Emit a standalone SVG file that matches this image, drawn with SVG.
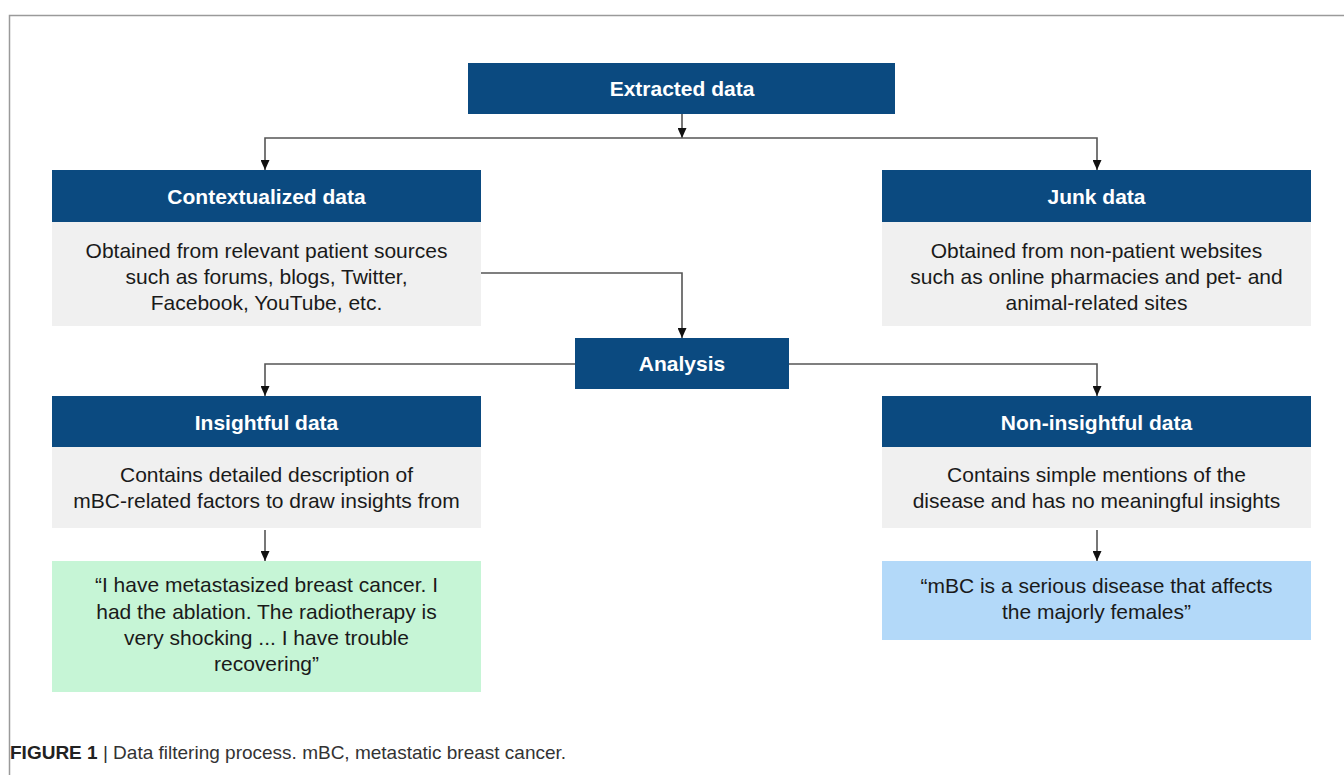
<svg xmlns="http://www.w3.org/2000/svg" width="1344" height="775" viewBox="0 0 1344 775">
<style>
.hdr{fill:#0b4a80}
.body{fill:#f0f0f0}
.green{fill:#c6f5d6}
.blue{fill:#b3d9f9}
.ht{font-family:"Liberation Sans",Arial,sans-serif;font-size:21px;font-weight:bold;fill:#ffffff;text-anchor:middle}
.bt{font-family:"Liberation Sans",Arial,sans-serif;font-size:21px;fill:#1a1a1a;text-anchor:middle}
.conn{fill:none;stroke:#555555;stroke-width:1.6}
.cap{font-family:"Liberation Sans",Arial,sans-serif;font-size:19px;fill:#333333}
</style>
<defs>
<marker id="arr" markerUnits="userSpaceOnUse" markerWidth="10" markerHeight="9" viewBox="0 0 10 9" refX="10" refY="4.5" orient="auto">
<path d="M0,0 L10,4.5 L0,9 z" fill="#111111"/>
</marker>
</defs>
<rect x="0" y="0" width="1344" height="775" fill="#ffffff"/>
<g id="frame">
<path d="M9.5,775 V15.5 H1344" fill="none" stroke="#9a9a9a" stroke-width="1.5"/>
</g>
<g id="connectors">
<path class="conn" d="M682,114 V138" marker-end="url(#arr)"/>
<path class="conn" d="M682,138 H265 V170" marker-end="url(#arr)"/>
<path class="conn" d="M682,138 H1097 V170" marker-end="url(#arr)"/>
<path class="conn" d="M481,273 H682 V338" marker-end="url(#arr)"/>
<path class="conn" d="M575,364 H265 V396" marker-end="url(#arr)"/>
<path class="conn" d="M789,364 H1097 V396" marker-end="url(#arr)"/>
<path class="conn" d="M265,530 V561" marker-end="url(#arr)"/>
<path class="conn" d="M1097,530 V561" marker-end="url(#arr)"/>
</g>
<g id="extracted">
<rect class="hdr" x="468" y="63" width="427" height="51"/>
<text class="ht" x="682" y="96">Extracted data</text>
</g>
<g id="contextualized">
<rect class="hdr" x="52" y="170" width="429" height="52"/>
<text class="ht" x="266.5" y="204">Contextualized data</text>
<rect class="body" x="52" y="222" width="429" height="104"/>
<text class="bt" x="266.5" y="258">Obtained from relevant patient sources</text>
<text class="bt" x="266.5" y="284">such as forums, blogs, Twitter,</text>
<text class="bt" x="266.5" y="310">Facebook, YouTube, etc.</text>
</g>
<g id="junk">
<rect class="hdr" x="882" y="170" width="429" height="52"/>
<text class="ht" x="1096.5" y="204">Junk data</text>
<rect class="body" x="882" y="222" width="429" height="104"/>
<text class="bt" x="1096.5" y="258">Obtained from non-patient websites</text>
<text class="bt" x="1096.5" y="284">such as online pharmacies and pet- and</text>
<text class="bt" x="1096.5" y="310">animal-related sites</text>
</g>
<g id="analysis">
<rect class="hdr" x="575" y="338" width="214" height="51"/>
<text class="ht" x="682" y="371">Analysis</text>
</g>
<g id="insightful">
<rect class="hdr" x="52" y="396" width="429" height="51"/>
<text class="ht" x="266.5" y="430">Insightful data</text>
<rect class="body" x="52" y="447" width="429" height="81"/>
<text class="bt" x="266.5" y="482">Contains detailed description of</text>
<text class="bt" x="266.5" y="508">mBC-related factors to draw insights from</text>
</g>
<g id="noninsightful">
<rect class="hdr" x="882" y="396" width="429" height="51"/>
<text class="ht" x="1096.5" y="430">Non-insightful data</text>
<rect class="body" x="882" y="447" width="429" height="81"/>
<text class="bt" x="1096.5" y="482">Contains simple mentions of the</text>
<text class="bt" x="1096.5" y="508">disease and has no meaningful insights</text>
</g>
<g id="quote-insightful">
<rect class="green" x="52" y="561" width="429" height="131"/>
<text class="bt" x="266.5" y="592">“I have metastasized breast cancer. I</text>
<text class="bt" x="266.5" y="619">had the ablation. The radiotherapy is</text>
<text class="bt" x="266.5" y="645">very shocking ... I have trouble</text>
<text class="bt" x="266.5" y="671">recovering”</text>
</g>
<g id="quote-noninsightful">
<rect class="blue" x="882" y="561" width="429" height="79"/>
<text class="bt" x="1096.5" y="593">“mBC is a serious disease that affects</text>
<text class="bt" x="1096.5" y="619">the majorly females”</text>
</g>
<g id="caption">
<text class="cap" x="10" y="759"><tspan font-weight="bold" fill="#222222">FIGURE 1</tspan> | Data filtering process. mBC, metastatic breast cancer.</text>
</g>
</svg>
